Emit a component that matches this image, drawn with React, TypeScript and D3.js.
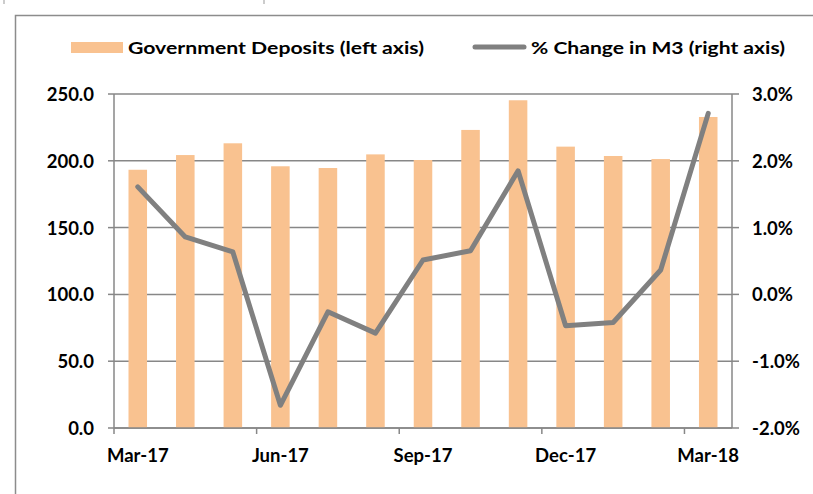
import React from "react";
import * as d3 from "d3";

const months = ["Mar-17","Apr-17","May-17","Jun-17","Jul-17","Aug-17","Sep-17","Oct-17","Nov-17","Dec-17","Jan-18","Feb-18","Mar-18"];
const deposits = [193.3, 204.3, 213.1, 195.9, 194.6, 204.8, 200.6, 223.1, 245.3, 210.6, 203.6, 201.3, 232.8];
const m3Change = [1.61, 0.86, 0.635, -1.66, -0.26, -0.58, 0.515, 0.654, 1.85, -0.47, -0.42, 0.365, 2.71];
const leftTicks = [0, 50, 100, 150, 200, 250];
const rightTicks = [-2, -1, 0, 1, 2, 3];
const xLabelIdx = [0, 3, 6, 9, 12];

const FONT = "Lato, 'Open Sans', sans-serif";
const GRID = "#878787";
const BAR = "#F9C290";
const LINE = "#808080";

export default function App() {
  const L = 114, R = 732, T = 94, B = 428;
  const x = d3.scaleBand<number>().domain(months.map((_, i) => i)).range([L, R]).paddingInner(0.61).paddingOuter(0.305);
  const step = x.step();
  const yL = d3.scaleLinear().domain([0, 250]).range([B, T]);
  const yR = d3.scaleLinear().domain([-2, 3]).range([B, T]);
  const cx = (i: number) => (x(i) as number) + x.bandwidth() / 2;
  const line = d3.line<number>().x((_, i) => cx(i)).y(d => yR(d));

  return (
    <svg width={813} height={494} style={{ position: "absolute", left: 0, top: 0, background: "#fff" }} fontFamily={FONT}>
      <rect x={0} y={0} width={813} height={494} fill="#fff" />
      {/* frame */}
      <path d="M15.5,520 L15.5,15.5 L830,15.5" fill="none" stroke="#8c8c8c" strokeWidth={1.5} />
      <line x1={4} y1={0} x2={4} y2={4} stroke="#999" strokeWidth={1} />
      <line x1={264} y1={0} x2={264} y2={4} stroke="#999" strokeWidth={1} />

      {/* legend */}
      <rect x={71} y={42} width={52} height={11} fill={BAR} />
      <text x={128} y={47} dominantBaseline="central" fontSize={17.5} fontWeight="bold" fill="#000" textLength={296} lengthAdjust="spacingAndGlyphs">Government Deposits (left axis)</text>
      <line x1={475} y1={47} x2={524} y2={47} stroke={LINE} strokeWidth={5} strokeLinecap="round" />
      <text x={531} y={47} dominantBaseline="central" fontSize={17.5} fontWeight="bold" fill="#000" textLength={254} lengthAdjust="spacingAndGlyphs">% Change in M3 (right axis)</text>

      {/* gridlines */}
      {leftTicks.map(t => (
        <line key={"g" + t} x1={L} x2={R} y1={yL(t)} y2={yL(t)} stroke={GRID} strokeWidth={1.5} />
      ))}
      {leftTicks.map(t => (
        <line key={"lt" + t} x1={L - 6} x2={L} y1={yL(t)} y2={yL(t)} stroke={GRID} strokeWidth={1.5} />
      ))}
      {rightTicks.map(t => (
        <line key={"rt" + t} x1={R} x2={R + 7} y1={yR(t)} y2={yR(t)} stroke={GRID} strokeWidth={1.5} />
      ))}

      {/* bars */}
      {deposits.map((v, i) => (
        <rect key={"b" + i} x={x(i)} y={yL(v)} width={x.bandwidth()} height={B - yL(v)} fill={BAR} />
      ))}

      {/* axes */}
      <line x1={L} x2={L} y1={T} y2={B} stroke={GRID} strokeWidth={1.5} />
      <line x1={R} x2={R} y1={T} y2={B} stroke={GRID} strokeWidth={1.5} />
      <line x1={L} x2={R} y1={B} y2={B} stroke={GRID} strokeWidth={1.5} />
      {xLabelIdx.map(i => (
        <line key={"xt" + i} x1={L + i * step} x2={L + i * step} y1={B} y2={B + 6} stroke={GRID} strokeWidth={1.5} />
      ))}

      {/* line */}
      <path d={line(m3Change) || ""} fill="none" stroke={LINE} strokeWidth={5} strokeLinejoin="round" strokeLinecap="round" />

      {/* tick labels */}
      {leftTicks.map(t => (
        <text key={"ll" + t} x={94} y={yL(t)} dominantBaseline="central" textAnchor="end" fontSize={18.5} fontWeight="bold" fill="#000">{t.toFixed(1)}</text>
      ))}
      {rightTicks.map(t => (
        <text key={"rl" + t} x={752} y={yR(t)} dominantBaseline="central" textAnchor="start" fontSize={18.5} fontWeight="bold" fill="#000">{t.toFixed(1) + "%"}</text>
      ))}
      {xLabelIdx.map(i => (
        <text key={"xl" + i} x={cx(i)} y={455} dominantBaseline="central" textAnchor="middle" fontSize={18.5} fontWeight="bold" fill="#000">{months[i]}</text>
      ))}
    </svg>
  );
}
